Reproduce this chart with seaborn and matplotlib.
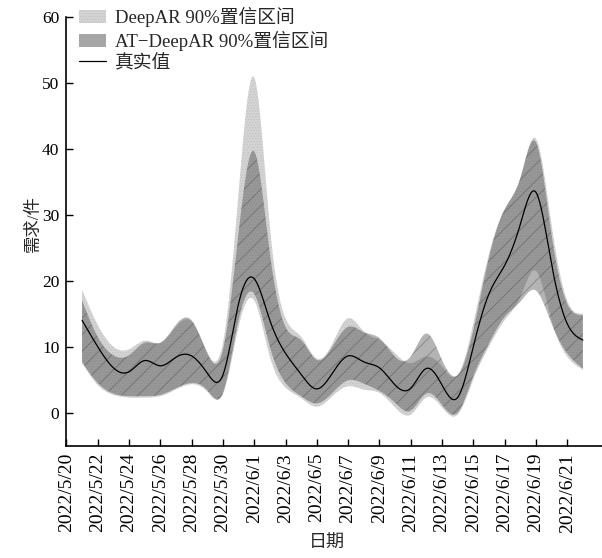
import numpy as np
import pandas as pd
import matplotlib
matplotlib.use("Agg")
import matplotlib.pyplot as plt
import seaborn as sns
from matplotlib.patches import Patch
from matplotlib.lines import Line2D

# Daily demand, 2022/5/21 .. 2022/6/22
start = pd.Timestamp("2022-05-20")
dates = pd.date_range("2022-05-21", periods=33)

actual = [14.0, 10.0, 6.8, 6.2, 7.9, 7.1, 8.4, 8.6, 6.0, 5.7, 16.5, 20.3, 14.0,
          9.0, 5.8, 3.6, 6.0, 8.6, 7.7, 6.8, 4.2, 3.7, 6.7, 4.2, 2.3, 10.0,
          18.0, 22.3, 28.5, 33.4, 22.5, 13.5, 11.0]

deepar_hi = [18.6, 13.3, 10.0, 9.6, 10.9, 10.6, 13.0, 13.8, 9.2, 10.5, 33.2, 50.8,
             28.2, 14.3, 11.5, 8.2, 10.5, 14.3, 12.3, 11.0, 9.0, 7.5, 8.5, 7.0,
             5.7, 13.5, 24.0, 30.8, 35.5, 41.5, 28.5, 17.0, 15.0]
deepar_lo = [7.5, 4.2, 2.7, 2.3, 2.3, 2.5, 3.5, 4.3, 3.2, 2.8, 13.0, 17.0, 8.5,
             3.8, 2.2, 0.9, 2.5, 4.0, 3.5, 3.0, 0.8, -0.3, 2.3, 0.8, -0.3, 5.0,
             10.0, 14.0, 17.5, 21.5, 14.0, 8.5, 6.5]

at_hi = [17.0, 11.5, 8.7, 8.7, 10.6, 10.6, 13.3, 14.0, 9.0, 9.5, 27.2, 39.6,
         24.2, 13.0, 11.0, 8.0, 10.0, 13.0, 12.2, 11.3, 8.5, 8.5, 12.0, 8.0,
         5.7, 12.5, 23.5, 30.8, 35.5, 41.0, 27.0, 16.5, 14.8]
at_lo = [7.7, 4.5, 2.9, 2.5, 2.5, 2.7, 3.7, 4.5, 3.4, 3.0, 14.0, 18.0, 10.0,
         4.5, 2.5, 1.4, 3.0, 4.9, 4.4, 3.3, 1.5, 0.3, 2.9, 1.2, 0.0, 5.5,
         10.5, 14.5, 16.8, 18.5, 13.5, 9.0, 6.7]

tick_dates = pd.date_range("2022-05-20", "2022-06-21", freq="2D")
tick_labels = [f"{d.year}/{d.month}/{d.day}" for d in tick_dates]
y_ticks = [0, 10, 20, 30, 40, 50, 60]

labels = ["DeepAR 90%置信区间", "AT\u2212DeepAR 90%置信区间", "真实值"]


def smooth(values, per_day=20):
    """Natural cubic spline through daily values."""
    y = np.asarray(values, dtype=float)
    n = len(y)
    A = np.zeros((n, n))
    b = np.zeros(n)
    A[0, 0] = A[-1, -1] = 1.0
    for i in range(1, n - 1):
        A[i, i - 1], A[i, i], A[i, i + 1] = 1.0, 4.0, 1.0
        b[i] = 6.0 * (y[i + 1] - 2 * y[i] + y[i - 1])
    M = np.linalg.solve(A, b)
    t = np.linspace(0, n - 1, (n - 1) * per_day + 1)
    i = np.minimum(np.floor(t).astype(int), n - 2)
    s = t - i
    out = ((1 - s) * y[i] + s * y[i + 1]
           + ((1 - s) ** 3 - (1 - s)) * M[i] / 6.0
           + (s ** 3 - s) * M[i + 1] / 6.0)
    return t, out


day0 = (dates[0] - start).days
t, act_s = smooth(actual)
xf = t + day0
_, dhi = smooth(deepar_hi)
_, dlo = smooth(deepar_lo)
_, ahi = smooth(at_hi)
_, alo = smooth(at_lo)

sns.set_theme(style="ticks")
plt.rcParams["font.family"] = ["Liberation Serif", "Noto Sans CJK SC"]
plt.rcParams["hatch.linewidth"] = 0.6
plt.rcParams["axes.unicode_minus"] = False

fig = plt.figure(figsize=(6.02, 5.58), dpi=100)
ax = fig.add_axes([66.4 / 602, 1 - 446 / 558, (602 - 66.4) / 602, (446 - 16.7) / 558])

light = "#d4d4d4"
at_col = "#303030"

ax.fill_between(xf, dlo, dhi, facecolor=light, edgecolor="#c2c2c2",
                hatch="......", linewidth=0, zorder=1)
ax.fill_between(xf, alo, ahi, facecolor=at_col, edgecolor=at_col, alpha=0.36,
                hatch="//", linewidth=0, zorder=2)

df = pd.DataFrame({"day": xf, "value": act_s})
sns.lineplot(data=df, x="day", y="value", color="black", linewidth=0.9,
             ax=ax, zorder=3)

ax.set_xlim(0, (602 - 66.4) / 15.65)
ax.set_ylim(-5.05, 60)
ax.set_xticks([(d - start).days for d in tick_dates])
ax.set_xticklabels(tick_labels, rotation=90, fontsize=14)
ax.set_yticks(y_ticks)
ax.set_yticklabels([str(v) for v in y_ticks], fontsize=12.5)
ax.tick_params(direction="in", length=5, width=1, colors="black", pad=5)

for side in ["top", "right"]:
    ax.spines[side].set_visible(False)
for side in ["left", "bottom"]:
    ax.spines[side].set_linewidth(1.2)
    ax.spines[side].set_color("black")

ax.set_xlabel("日期", fontsize=13, fontweight="medium")
ax.xaxis.set_label_coords((326.5 - 66.4) / 535.6, -(535 - 446) / 429.3)
ax.set_ylabel("需求/件", fontsize=12.5, fontweight="medium")
ax.yaxis.set_label_coords(-(66.4 - 42) / 535.6, (446 - 224) / 429.3)

handles = [
    Patch(facecolor=light, edgecolor="#c2c2c2", hatch="......", linewidth=0),
    Patch(facecolor="#a6a6a6", edgecolor="#a6a6a6", linewidth=0),
    Line2D([0], [0], color="black", linewidth=0.9),
]
fig.legend(handles, labels, loc="upper left", bbox_to_anchor=(79 / 602, 1 - 7 / 558),
           frameon=False, fontsize=13.5, handlelength=1.45, handleheight=0.75,
           handletextpad=0.45, labelspacing=0.2, borderaxespad=0, borderpad=0)

fig.savefig("out.png", dpi=100)
